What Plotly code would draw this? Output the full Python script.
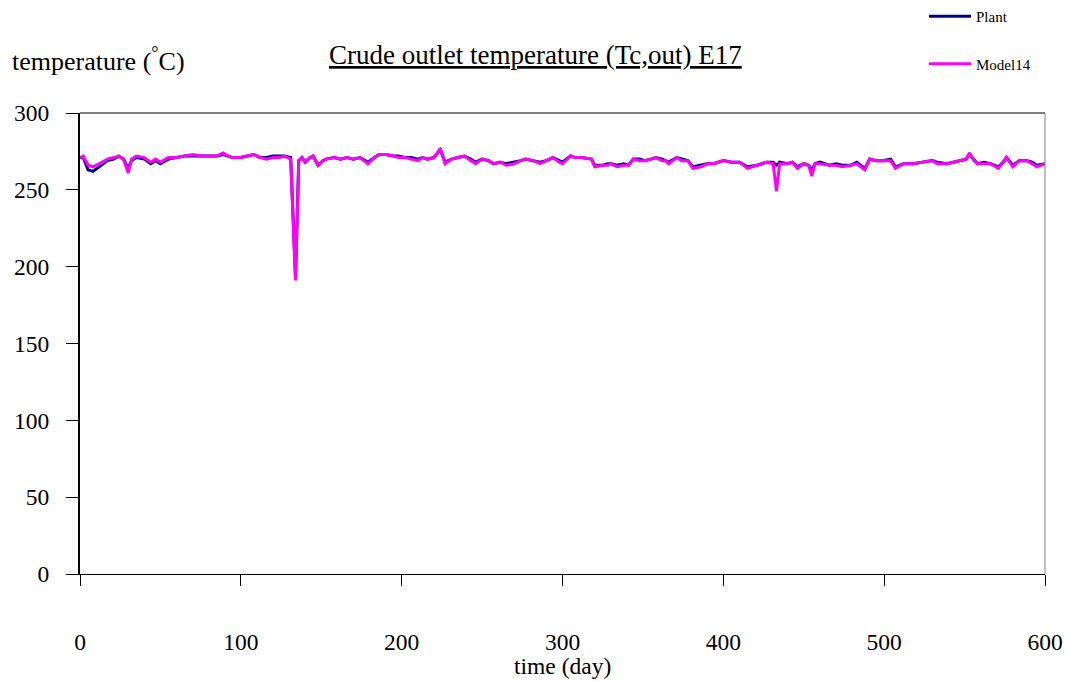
import plotly.graph_objects as go

# Sampling days and measured / modelled crude outlet temperatures (deg C)
days = [0, 2, 5, 8, 12, 17, 21, 24, 27, 30, 32, 35, 40, 44, 47, 50, 55, 60, 65, 70,
        75, 80, 85, 89, 92, 95, 100, 104, 108, 112, 116, 120, 124, 127, 131, 134, 136, 138, 140, 143,
        145, 148, 151, 153, 158, 162, 166, 170, 174, 179, 183, 186, 190, 195, 198, 202, 206, 210, 213, 216,
        220, 224, 227, 231, 235, 239, 243, 246, 250, 254, 257, 261, 265, 270, 274, 277, 282, 286, 290, 294,
        298, 300, 305, 308, 312, 318, 320, 325, 328, 330, 334, 338, 341, 344, 348, 351, 355, 358, 362, 364,
        366, 371, 374, 378, 381, 386, 390, 394, 400, 405, 410, 415, 421, 427, 431, 433, 435, 440, 443, 446,
        450, 453, 455, 457, 460, 466, 470, 474, 479, 483, 488, 491, 495, 499, 504, 507, 512, 518, 524, 530,
        533, 539, 543, 548, 551, 553, 556, 558, 562, 566, 571, 574, 576, 580, 584, 589, 592, 595, 600]

plant = [271, 271, 263, 262, 265, 269, 270, 272, 270, 264, 269, 271, 270, 267, 269, 267, 270, 271, 272, 272,
         272, 272, 272, 273, 272, 271, 271, 272, 273, 271, 271, 272, 272, 272, 271, 193, 269, 271, 268, 271,
         272, 266, 269, 270, 271, 270, 271, 270, 271, 268, 271, 273, 273, 272, 272, 271, 271, 270, 271, 270,
         271, 276, 268, 270, 271, 272, 270, 268, 270, 269, 267, 268, 267, 268, 269, 270, 269, 268, 269, 271,
         269, 268, 272, 271, 271, 270, 266, 266, 267, 267, 266, 267, 266, 270, 270, 269, 270, 271, 270, 269,
         268, 271, 270, 269, 265, 266, 267, 267, 269, 268, 268, 265, 266, 268, 268, 266, 268, 267, 268, 265,
         267, 266, 263, 267, 268, 266, 267, 266, 266, 268, 264, 270, 269, 269, 270, 265, 267, 267, 268, 269,
         268, 267, 268, 269, 270, 273, 269, 267, 268, 267, 265, 268, 271, 266, 269, 269, 268, 266, 267]

model14 = [271, 272, 266, 265, 267, 270, 271, 272, 270, 261, 270, 272, 271, 268, 270, 268, 271, 271, 272, 273,
           272, 272, 272, 274, 272, 271, 271, 272, 273, 271, 270, 271, 271, 272, 270, 191, 269, 271, 268, 271,
           272, 266, 269, 270, 271, 270, 271, 270, 271, 267, 271, 273, 273, 272, 271, 271, 270, 269, 271, 270,
           271, 277, 267, 270, 271, 272, 269, 267, 270, 269, 267, 268, 266, 267, 269, 270, 269, 267, 269, 271,
           268, 267, 272, 271, 271, 270, 265, 266, 266, 267, 265, 266, 266, 270, 269, 269, 270, 271, 269, 269,
           267, 271, 269, 269, 264, 265, 267, 267, 269, 268, 268, 264, 266, 268, 267, 249, 267, 267, 268, 264,
           267, 266, 259, 267, 267, 266, 266, 265, 266, 267, 263, 270, 269, 269, 269, 264, 267, 267, 268, 269,
           267, 267, 268, 269, 270, 274, 269, 267, 267, 267, 264, 268, 271, 265, 269, 269, 267, 265, 267]

x_ticks = [0, 100, 200, 300, 400, 500, 600]
y_ticks = [0, 50, 100, 150, 200, 250, 300]

serif = "Liberation Serif, Times New Roman, serif"

fig = go.Figure()
fig.add_trace(go.Scatter(x=days, y=plant, mode="lines", name="Plant",
                         legendgroup="a", line=dict(color="#000080", width=3)))
fig.add_trace(go.Scatter(x=days, y=model14, mode="lines", name="Model14",
                         legendgroup="b", line=dict(color="#FF00FF", width=3)))

fig.update_layout(
    width=1067, height=682,
    margin=dict(l=80, r=22, t=113, b=108, autoexpand=False),
    paper_bgcolor="white", plot_bgcolor="white",
    font=dict(family=serif, color="black", size=23),
    showlegend=True,
    legend=dict(x=0.866, y=1.0, xanchor="left", yanchor="top",
                yref="container", xref="container",
                font=dict(family=serif, size=15), bgcolor="rgba(0,0,0,0)",
                tracegroupgap=25, traceorder="grouped", itemwidth=42),
    xaxis=dict(range=[0, 600], tickvals=x_ticks, ticks="outside", ticklen=11,
               tickcolor="black", showgrid=False, zeroline=False,
               showline=True, linecolor="black", linewidth=1,
               ticklabelstandoff=36, tickfont=dict(size=23.5)),
    yaxis=dict(range=[0, 300], tickvals=y_ticks, ticks="outside", ticklen=12,
               tickcolor="black", showgrid=False, zeroline=False,
               showline=True, linecolor="black", linewidth=2,
               ticklabelstandoff=12, tickfont=dict(size=23.5)),
    annotations=[
        dict(text="<u>Crude outlet temperature (Tc,out) E17</u>",
             xref="paper", yref="paper", x=0.4725, y=1.088,
             xanchor="center", yanchor="bottom",
             showarrow=False, font=dict(size=27)),
        dict(text="temperature (<sup>°</sup>C)", xref="paper", yref="paper",
             x=-0.073, y=1.075, xanchor="left", yanchor="bottom",
             showarrow=False, font=dict(size=26)),
        dict(text="time (day)", xref="paper", yref="paper",
             x=0.5, y=-0.2, xanchor="center", yanchor="middle",
             showarrow=False, font=dict(size=23.5)),
    ],
    shapes=[
        dict(type="line", xref="paper", yref="paper", x0=0, x1=1, y0=1, y1=1,
             line=dict(color="black", width=1)),
        dict(type="line", xref="paper", yref="paper", x0=1, x1=1, y0=0, y1=1,
             line=dict(color="#808080", width=1)),
    ],
)

fig.write_html("out.html")
